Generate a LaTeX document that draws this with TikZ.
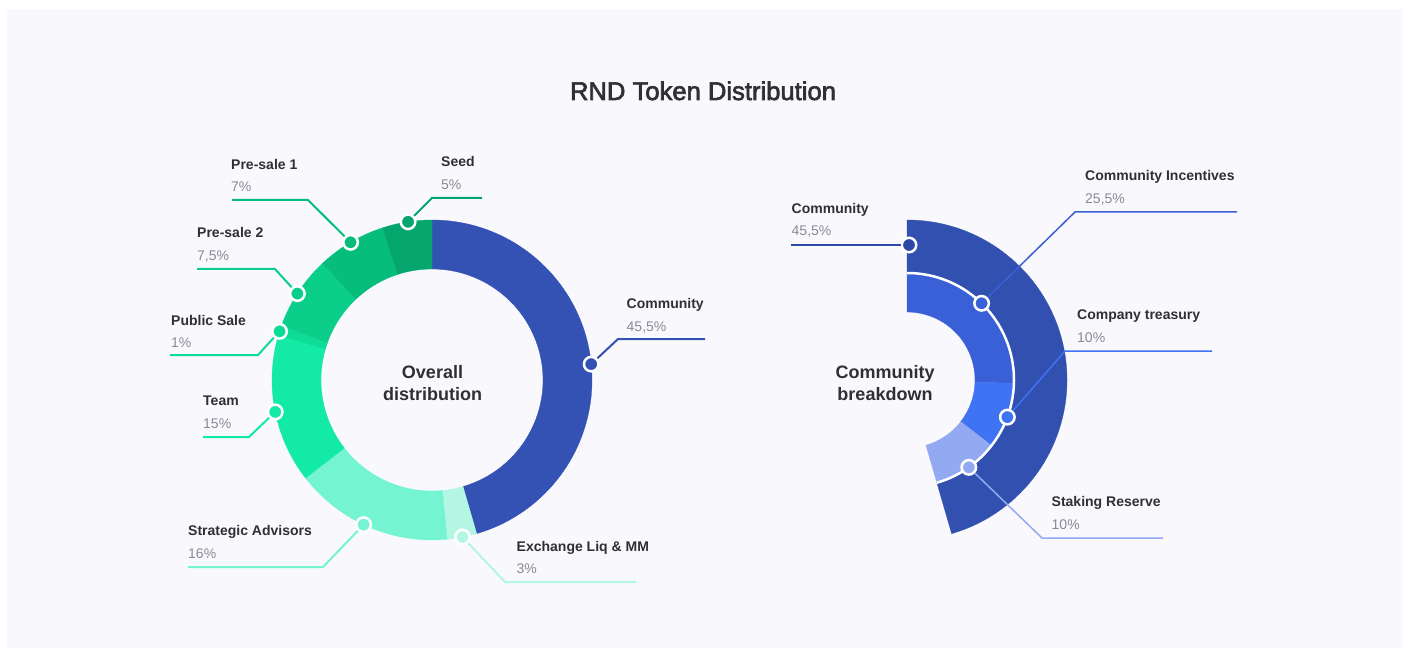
\documentclass[tikz,border=0pt]{standalone}
\usepackage{fontspec}
\setmainfont{Liberation Sans}
\newfontfamily\titlefont{Liberation Sans}[FakeBold=2.5]
\usetikzlibrary{calc}

\definecolor{panel}{HTML}{F9F9FD}
\definecolor{namegray}{HTML}{2F2F35}
\definecolor{pctgray}{HTML}{888A95}
% overall distribution
\definecolor{commblue}{HTML}{3452B4}
\definecolor{exchmint}{HTML}{B3F7E3}
\definecolor{advmint}{HTML}{75F4D1}
\definecolor{teamgreen}{HTML}{12EAA5}
\definecolor{salegreen}{HTML}{0CDC95}
\definecolor{pretwogreen}{HTML}{0ACE89}
\definecolor{preonegreen}{HTML}{07BD7C}
\definecolor{seedgreen}{HTML}{05A66D}
% community breakdown
\definecolor{outerblue}{HTML}{3150B0}
\definecolor{outerdot}{HTML}{2C49A6}
\definecolor{incblue}{HTML}{3A60D8}
\definecolor{treasblue}{HTML}{3E73F3}
\definecolor{stakeblue}{HTML}{93A9F1}

% one piece of a ring: centre, from, to, inner radius, outer radius, colour
\newcommand{\ringpart}[6]{%
  \filldraw[fill=#6, draw=#6, line width=0.3pt, shift={(#1)}]
    (#2:#5) arc[start angle=#2, end angle=#3, radius=#5]
    -- (#3:#4) arc[start angle=#3, end angle=#2, radius=#4] -- cycle;
}

\tikzset{
  segname/.style={anchor=base west, inner sep=0pt, text=namegray,
    font=\fontsize{14}{16}\selectfont\bfseries},
  segpct/.style={anchor=base west, inner sep=0pt, text=pctgray,
    font=\fontsize{14}{16}\selectfont},
  midtext/.style={anchor=base, inner sep=0pt, text=namegray,
    font=\fontsize{18}{22}\selectfont\bfseries},
  dot/.style={circle, draw=white, line width=2.5pt, minimum size=14.5pt,
    inner sep=0pt},
  lead/.style={line width=2pt},
  leadthin/.style={line width=1.5pt}
}

\begin{document}
\begin{tikzpicture}[x=1pt, y=1pt]
  \useasboundingbox (0,0) rectangle (1409,-655);
  \fill[white] (0,0) rectangle (1409,-655);
  \fill[panel] (7,-9) rectangle (1403,-648);

  \node[anchor=base, inner sep=0pt, text=namegray,
    font=\fontsize{25.6}{30}\titlefont] (title) at (703,-100)
    {RND Token Distribution};

  % ---- overall distribution ----
  \coordinate (L) at (432,-380);
  \foreach \from/\to/\col in {90/-73.8/commblue, -73.8/-84.6/exchmint,
      -84.6/-142.2/advmint, -142.2/-196.2/teamgreen,
      -196.2/-199.8/salegreen, -199.8/-226.8/pretwogreen,
      -226.8/-252/preonegreen, -252/-270/seedgreen}
    {\ringpart{L}{\from}{\to}{111}{160}{\col}}

  \node[midtext] (overall) at (432.5,-378) {Overall};
  \node[midtext] (distr) at (432.5,-400) {distribution};

  \node[dot, fill=seedgreen] (seeddot) at ($(L)+(98.6:160)$) {};
  \node[dot, fill=preonegreen] (preonedot) at ($(L)+(120.6:160)$) {};
  \node[dot, fill=pretwogreen] (pretwodot) at ($(L)+(147.3:160)$) {};
  \node[dot, fill=salegreen] (saledot) at ($(L)+(162.3:160)$) {};
  \node[dot, fill=teamgreen] (teamdot) at ($(L)+(191.5:160)$) {};
  \node[dot, fill=advmint] (advdot) at ($(L)+(244.7:160)$) {};
  \node[dot, fill=exchmint] (exchdot) at ($(L)+(281:160)$) {};
  \node[dot, fill=commblue] (commdot) at ($(L)+(5.7:160)$) {};

  \coordinate (seedknee) at (432,-198);
  \coordinate (seedend) at (482,-198);
  \coordinate (preoneknee) at (308,-200);
  \coordinate (preoneend) at (232,-200);
  \coordinate (pretwoknee) at (275,-269);
  \coordinate (pretwoend) at (197,-269);
  \coordinate (saleknee) at (258,-355);
  \coordinate (saleend) at (170,-355);
  \coordinate (teamknee) at (249,-437);
  \coordinate (teamend) at (203,-437);
  \coordinate (advknee) at (323,-567);
  \coordinate (advend) at (188,-567);
  \coordinate (exchknee) at (505,-582);
  \coordinate (exchend) at (636,-582);
  \coordinate (commknee) at (618,-339);
  \coordinate (commend) at (705,-339);

  \draw[lead, seedgreen] (seeddot) -- (seedknee) -- (seedend);
  \draw[lead, preonegreen] (preonedot) -- (preoneknee) -- (preoneend);
  \draw[lead, pretwogreen] (pretwodot) -- (pretwoknee) -- (pretwoend);
  \draw[lead, salegreen] (saledot) -- (saleknee) -- (saleend);
  \draw[lead, teamgreen] (teamdot) -- (teamknee) -- (teamend);
  \draw[lead, advmint] (advdot) -- (advknee) -- (advend);
  \draw[lead, exchmint] (exchdot) -- (exchknee) -- (exchend);
  \draw[lead, commblue] (commdot) -- (commknee) -- (commend);

  \node[segname] (seedname) at (441,-166.5) {Seed};
  \node[segpct] (seedpct) at (441,-189.5) {5\%};
  \node[segname] (preonename) at (231,-169.5) {Pre-sale 1};
  \node[segpct] (preonepct) at (231,-191.5) {7\%};
  \node[segname] (pretwoname) at (197,-238) {Pre-sale 2};
  \node[segpct] (pretwopct) at (197,-261) {7,5\%};
  \node[segname] (salename) at (171,-325) {Public Sale};
  \node[segpct] (salepct) at (171,-347.5) {1\%};
  \node[segname] (teamname) at (203,-405) {Team};
  \node[segpct] (teampct) at (203,-428) {15\%};
  \node[segname] (advname) at (188,-535) {Strategic Advisors};
  \node[segpct] (advpct) at (188,-558) {16\%};
  \node[segname] (exchname) at (516.5,-551.5) {Exchange Liq \& MM};
  \node[segpct] (exchpct) at (516.5,-573.5) {3\%};
  \node[segname] (commname) at (626.5,-308.5) {Community};
  \node[segpct] (commpct) at (626.5,-331) {45,5\%};

  % ---- community breakdown ----
  \coordinate (R) at (907,-380);
  \ringpart{R}{90}{-73.8}{107}{160}{outerblue}
  \ringpart{R}{90}{-1.8}{68}{107}{incblue}
  \ringpart{R}{-1.8}{-37.8}{68}{107}{treasblue}
  \ringpart{R}{-37.8}{-73.8}{68}{107}{stakeblue}
  \draw[white, line width=2.5pt, shift={(R)}]
    (90:107) arc[start angle=90, end angle=-73.8, radius=107];

  \node[midtext] (cbone) at (885,-378) {Community};
  \node[midtext] (cbtwo) at (885,-400) {breakdown};

  \node[dot, fill=outerdot] (ccdot) at (909,-245) {};
  \node[dot, fill=incblue] (incdot) at ($(R)+(45.8:107)$) {};
  \node[dot, fill=treasblue] (treasdot) at ($(R)+(-20.3:107)$) {};
  \node[dot, fill=stakeblue] (stakedot) at ($(R)+(-54.7:107)$) {};

  \coordinate (ccend) at (791,-245);
  \coordinate (incknee) at (1075,-212);
  \coordinate (incend) at (1237,-212);
  \coordinate (treasknee) at (1065,-351);
  \coordinate (treasend) at (1212,-351);
  \coordinate (stakeknee) at (1042,-538);
  \coordinate (stakeend) at (1163,-538);

  \draw[leadthin, outerdot] (ccdot) -- (ccend);
  \draw[leadthin, incblue] (incdot) -- (incknee) -- (incend);
  \draw[leadthin, treasblue] (treasdot) -- (treasknee) -- (treasend);
  \draw[leadthin, stakeblue] (stakedot) -- (stakeknee) -- (stakeend);

  \node[segname] (ccname) at (791.5,-214) {Community};
  \node[segpct] (ccpct) at (791.5,-236) {45,5\%};
  \node[segname] (incname) at (1085,-180.5) {Community Incentives};
  \node[segpct] (incpct) at (1085,-203.5) {25,5\%};
  \node[segname] (treasname) at (1077,-319.5) {Company treasury};
  \node[segpct] (treaspct) at (1077,-342) {10\%};
  \node[segname] (stakename) at (1051.5,-506.5) {Staking Reserve};
  \node[segpct] (stakepct) at (1051.5,-529.5) {10\%};
\end{tikzpicture}
\end{document}
